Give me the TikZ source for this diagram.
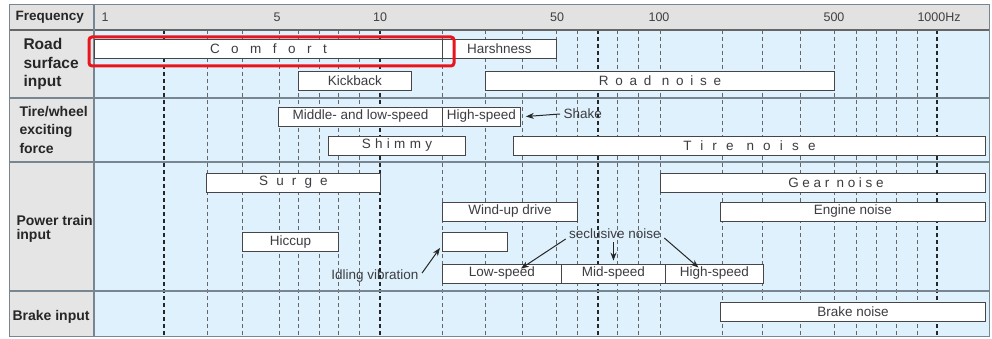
\documentclass[tikz,border=0pt]{standalone}
\usepackage{fontspec}
\setmainfont{Liberation Sans}
\usepackage{xcolor}
\usepackage{tikz}
\usetikzlibrary{positioning,arrows.meta}

\definecolor{skyband}{RGB}{223,241,252}
\definecolor{headgray}{RGB}{226,226,226}
\definecolor{rulegray}{RGB}{120,134,146}
\definecolor{boxline}{RGB}{70,70,72}
\definecolor{inktext}{RGB}{60,60,66}
\definecolor{markred}{RGB}{232,22,28}

% letter spaced box titles
\newcommand{\spaced}[2]{{\addfontfeature{LetterSpace=#1}#2}}

\begin{document}
\begin{tikzpicture}[
  x=1pt, y=-1pt,
  font=\fontsize{13.5}{15}\selectfont,
  >={Stealth[length=8pt,width=6pt]},
  band/.style={draw=boxline, line width=0.9pt, fill=white, minimum height=19, inner sep=0pt, anchor=west, text=inktext},
  rowlabel/.style={anchor=west, align=left, text=black!85},
  freq/.style={font=\fontsize{12.5}{14}\selectfont, text=black!75},
  gridline/.style={dash pattern=on 4pt off 3pt, black!60, line width=0.6pt},
  gridmain/.style={gridline, black!85, line width=1.1pt},
  note/.style={text=inktext},
  arr/.style={->, line width=1pt, black!85},
]
\useasboundingbox (0,0) rectangle (992,339);

% Frame and bands
\fill[skyband] (94,30) rectangle (989,336);
\fill[headgray] (9,5) rectangle (989,30);
\fill[headgray!90] (9,30) rectangle (94,336);

% Frequency grid (log scale)
\foreach \gx in {207,242,279,298,319,338,359,442,485,522,556,577,617,638,660,722,762,800,834,856,876,896,917}
  \draw[gridline] (\gx,30) -- (\gx,336);
\foreach \gx in {164,380,598,937}
  \draw[gridmain] (\gx,30) -- (\gx,336);

% Row rules
\draw[rulegray, line width=1.2pt] (9,98) -- (989,98);
\draw[rulegray, line width=1.2pt] (9,162) -- (989,162);
\draw[rulegray, line width=1.2pt] (9,291) -- (989,291);
\draw[black!60, line width=1.4pt] (9,30) -- (989,30);
\draw[rulegray, line width=1.2pt] (94,5) -- (94,336);
\draw[rulegray, line width=1pt] (9,5) rectangle (989,336);

% Header
\node[rowlabel, font=\bfseries\fontsize{13.5}{15}\selectfont] (lbfreq) at (12,17.5) {Frequency};
\node[freq] (f1) at (105,17.5) {1};
\node[freq] (f5) at (277,17.5) {5};
\node[freq] (f10) at (380,17.5) {10};
\node[freq] (f50) at (557,17.5) {50};
\node[freq] (f100) at (659,17.5) {100};
\node[freq] (f500) at (834,17.5) {500};
\node[freq, anchor=west] (f1000) at (914,17.5) {1000Hz};

% Row labels
\node[rowlabel, font=\bfseries\fontsize{15.5}{18.5}\selectfont] (lbroad) at (20,64) {Road\\surface\\input};
\node[rowlabel, font=\bfseries\fontsize{14}{18.5}\selectfont] (lbtire) at (16,129.5) {Tire/wheel\\exciting\\force};
\node[rowlabel, font=\bfseries\fontsize{14}{14}\selectfont] (lbpower) at (13,228.5) {Power train\\input};
\node[rowlabel, font=\bfseries\fontsize{14}{15}\selectfont] (lbbrake) at (9,317) {Brake input};

% Road surface input
\node[band, minimum width=348] (comfort) at (94,48.5) {\spaced{85}{Comfort}};
\node[band, minimum width=114] (harsh) at (442,48.5) {Harshness};
\node[band, minimum width=113] (kick) at (298,81) {Kickback};
\node[band, minimum width=349] (roadnoise) at (485,81) {\spaced{50}{Road noise}};

% Tire/wheel exciting force
\node[band, minimum width=164] (midlow) at (278,116.5) {Middle- and low-speed};
\node[band, minimum width=78] (hispeed) at (442,116.5) {High-speed};
\node[note, anchor=west] (shake) at (560,114) {Shake};
\node[band, minimum width=137] (shimmy) at (328,145.5) {\spaced{32}{Shimmy}};
\node[band, minimum width=472] (tirenoise) at (513,145.5) {\spaced{68}{Tire noise}};

% Power train input
\node[band, minimum width=174] (surge) at (206,182.5) {\spaced{60}{Surge}};
\node[band, minimum width=325] (gear) at (660,182.5) {\hspace*{26pt}\spaced{27}{Gear noise}};
\node[band, minimum width=135] (windup) at (442,211.5) {Wind-up drive};
\node[band, minimum width=265] (engine) at (720,211.5) {Engine noise};
\node[band, minimum width=96] (hiccup) at (242,242) {Hiccup};
\node[band, minimum width=65] (idlebox) at (442,242) {};
\node[band, minimum width=119] (lowspd) at (442,273.5) {Low-speed};
\node[band, minimum width=104] (midspd) at (561,273.5) {Mid-speed};
\node[band, minimum width=98] (hispd) at (665,273.5) {High-speed};
\node[note] (idling) at (375,276) {Idling vibration};
\node[note] (seclu) at (615,234) {seclusive noise};

% Brake input
\node[band, minimum width=265] (brake) at (720,312) {Brake noise};

% Pointers
\draw[arr] (shake.west) -- ([xshift=5]hispeed.east);
\draw[arr] ([yshift=3]idling.east) -- ([shift={(-2,-4)}]idlebox.south west);
\draw[arr] ([yshift=-5]seclu.west) -- ([shift={(19,5)}]lowspd.north);
\draw[arr] (seclu.south -| midspd.north) -- ([yshift=3]midspd.north);
\draw[arr] ([yshift=-4]seclu.east) -- ([shift={(-16,4)}]hispd.north);

% Highlight
\draw[markred, line width=3pt, rounded corners=3pt] (89,37) rectangle (454,66);

\end{tikzpicture}
\end{document}
